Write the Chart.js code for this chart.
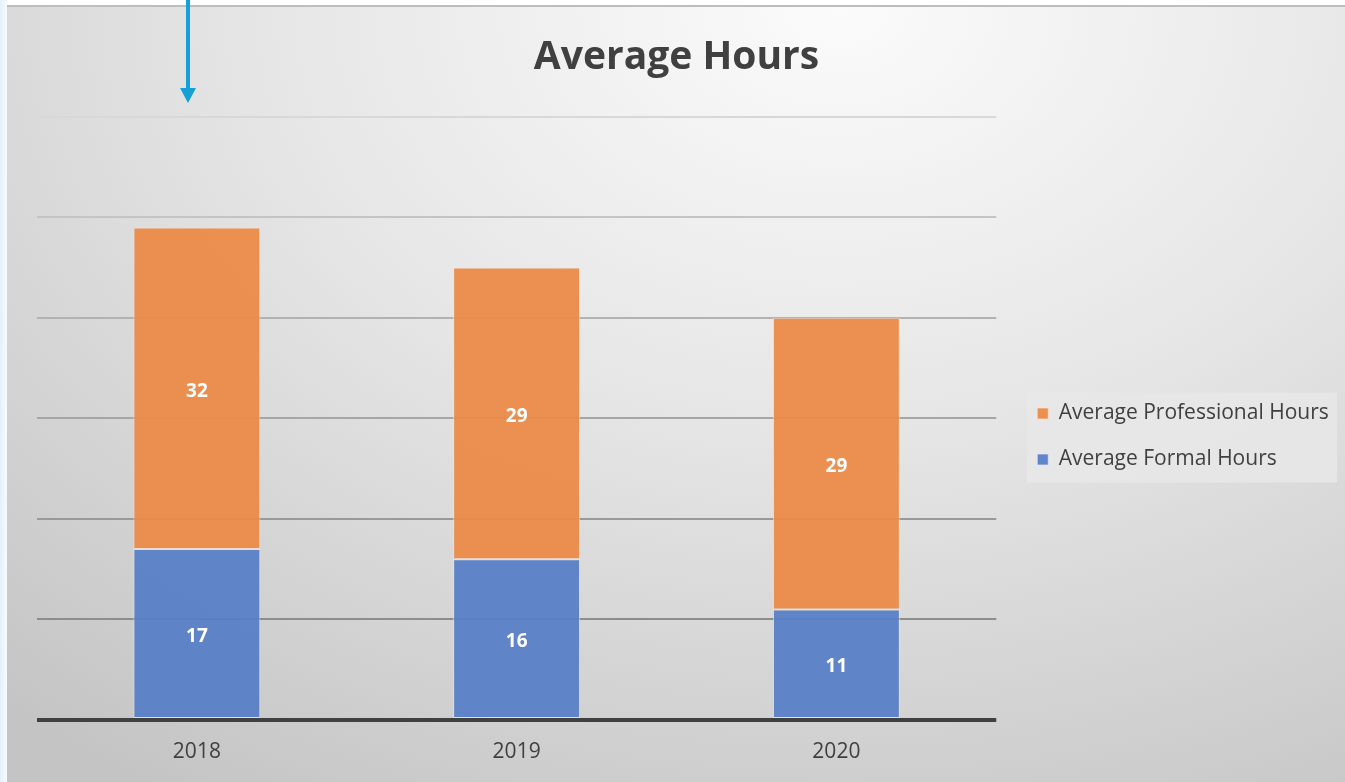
<!DOCTYPE html>
<html>
<head>
<meta charset="utf-8">
<script src="https://cdn.jsdelivr.net/npm/chart.js@4/dist/chart.umd.min.js"></script>
<style>
  html, body { margin: 0; padding: 0; background: #fff; }
  body { width: 1345px; height: 782px; position: relative; overflow: hidden; }
  #edge { position: absolute; left: 0; top: 0; width: 7px; height: 782px;
          background: linear-gradient(90deg, #e4f1f8, #f7fbfd); }
  #panel { position: absolute; left: 7px; top: 5px; width: 1338px; height: 777px;
           border-top: 2px solid #bdbdbd; box-sizing: border-box;
           background: radial-gradient(ellipse 95% 120% at 62% 0%, #fbfbfb 0%, #e6e6e6 45%, #c4c4c4 100%); }
  #arrow { position: absolute; left: 178px; top: 0; }
</style>
</head>
<body>
<div id="edge"></div>
<div id="panel"><canvas id="myChart" width="1338" height="775"></canvas></div>
<svg id="arrow" width="20" height="106">
  <rect x="8" y="0" width="4" height="92" fill="#15a0d8"/>
  <polygon points="2,88 18,88 10,103" fill="#15a0d8"/>
</svg>
<script>
var years = ['2018', '2019', '2020'];
var formalHours = [17, 16, 11];
var professionalHours = [32, 29, 29];
var yTicks = [0, 10, 20, 30, 40, 50, 60];

var gridColors = { 0: '#404040', 10: '#8d8d8d', 20: '#999999', 30: '#a6a6a6', 40: '#b2b2b2', 50: '#c4c4c4', 60: '#d8d8d8' };

var barLabels = {
    id: 'barLabels',
    afterDatasetsDraw: function(chart) {
        var ctx = chart.ctx;
        ctx.save();
        ctx.fillStyle = '#ffffff';
        ctx.font = 'bold 19px "Open Sans"';
        ctx.textAlign = 'center';
        ctx.textBaseline = 'middle';
        chart.data.datasets.forEach(function(ds, i) {
            chart.getDatasetMeta(i).data.forEach(function(bar, j) {
                var p = bar.getCenterPoint();
                ctx.fillText(ds.data[j], p.x, p.y + 3);
            });
        });
        ctx.restore();
    }
};

// nudge the legend into place and give it a light panel behind it
var legendBox = {
    id: 'legendBox',
    afterLayout: function(chart) {
        var lg = chart.legend;
        lg.left += 16; lg.right += 16;
        lg.top += 51; lg.bottom += 51;
    },
    beforeDraw: function(chart) {
        var lg = chart.legend;
        var ctx = chart.ctx;
        var hb = lg.legendHitBoxes;
        var first = hb[0], last = hb[hb.length - 1];
        var top = first.top + first.height / 2 - 21;
        var bottom = last.top + last.height / 2 + 23;
        ctx.save();
        ctx.fillStyle = 'rgba(232,232,232,0.85)';
        ctx.fillRect(1020, top, 310, bottom - top);
        ctx.restore();
    }
};

var ctx = document.getElementById('myChart').getContext('2d');
var myChart = new Chart(ctx, {
    type: 'bar',
    data: {
        labels: years,
        datasets: [{
            label: 'Average Formal Hours',
            data: formalHours,
            backgroundColor: 'rgba(87,126,198,0.94)',
            borderColor: 'rgba(225,232,245,0.7)',
            borderWidth: 1,
            borderSkipped: false,
            categoryPercentage: 1,
            barPercentage: 0.397
        }, {
            label: 'Average Professional Hours',
            data: professionalHours,
            backgroundColor: 'rgba(236,138,72,0.94)',
            borderColor: 'rgba(250,225,205,0.7)',
            borderWidth: 1,
            borderSkipped: false,
            categoryPercentage: 1,
            barPercentage: 0.397
        }]
    },
    options: {
        responsive: false,
        animation: false,
        layout: { padding: { left: 30, right: 29, bottom: 18 } },
        plugins: {
            title: {
                display: true,
                text: 'Average Hours',
                color: '#404040',
                font: { family: '"Open Sans"', size: 39, weight: 'bold' },
                padding: { top: 27, bottom: 36 }
            },
            legend: {
                position: 'right',
                reverse: true,
                labels: {
                    color: '#404040',
                    font: { family: '"Open Sans"', size: 21 },
                    boxWidth: 11,
                    boxHeight: 11,
                    padding: 25
                }
            },
            tooltip: { enabled: false }
        },
        scales: {
            x: {
                stacked: true,
                border: { display: false },
                grid: { display: false, drawTicks: false },
                ticks: { color: '#404040', font: { family: '"Open Sans"', size: 21 }, padding: 19 },
                afterFit: function(scale) { scale.height = 44; }
            },
            y: {
                stacked: true,
                min: 0,
                max: 60,
                border: { display: false },
                afterBuildTicks: function(axis) {
                    axis.ticks = yTicks.map(function(v) { return { value: v }; });
                },
                grid: {
                    drawTicks: false,
                    color: function(c) { return gridColors[c.tick.value]; },
                    lineWidth: function(c) { return c.tick.value === 0 ? 4 : 2; }
                },
                ticks: { display: false }
            }
        }
    },
    plugins: [barLabels, legendBox]
});
</script>
</body>
</html>
